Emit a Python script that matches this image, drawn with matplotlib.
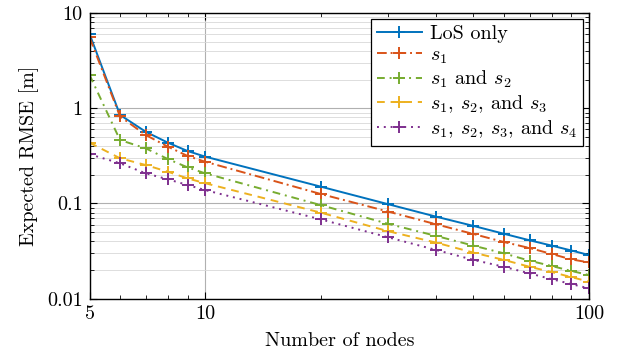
import matplotlib
matplotlib.use("Agg")
import matplotlib.pyplot as plt
from matplotlib.ticker import FixedLocator, FixedFormatter, LogLocator, NullFormatter

plt.rcParams['font.family'] = 'cmr10'
plt.rcParams['mathtext.fontset'] = 'cm'
plt.rcParams['axes.formatter.use_mathtext'] = True

nodes = [5, 6, 7, 8, 9, 10, 20, 30, 40, 50, 60, 70, 80, 90, 100]

los = [6.0, 0.85, 0.566, 0.434, 0.355, 0.31, 0.15, 0.098, 0.0725, 0.058, 0.048, 0.041, 0.036, 0.032, 0.0287]
s1 = [5.55, 0.82, 0.523, 0.394, 0.315, 0.274, 0.1256, 0.082, 0.0603, 0.0477, 0.0393, 0.034, 0.0294, 0.0258, 0.024]
s12 = [2.23, 0.463, 0.379, 0.292, 0.239, 0.207, 0.096, 0.061, 0.0455, 0.036, 0.0299, 0.025, 0.022, 0.0195, 0.0177]
s123 = [0.434, 0.298, 0.253, 0.215, 0.183, 0.163, 0.08, 0.051, 0.0387, 0.0304, 0.0255, 0.0216, 0.019, 0.0168, 0.0151]
s1234 = [0.328, 0.264, 0.207, 0.179, 0.156, 0.138, 0.068, 0.044, 0.0324, 0.0255, 0.0216, 0.0184, 0.016, 0.0142, 0.0128]

labels = ['LoS only', '$s_1$', '$s_1$ and $s_2$', '$s_1$, $s_2$, and $s_3$', '$s_1$, $s_2$, $s_3$, and $s_4$']

fig = plt.figure(figsize=(6.21, 3.56), dpi=100)
ax = fig.add_axes([0.1443, 0.1612, 0.8042, 0.8023])

mk = dict(marker='+', markersize=8, markeredgewidth=1.4, linewidth=1.4)
ax.plot(nodes, los, color='#0072BD', linestyle='-', label=labels[0], **mk)
ax.plot(nodes, s1, color='#D95319', linestyle=(0, (5, 2, 1, 2)), label=labels[1], **mk)
ax.plot(nodes, s12, color='#77AC30', linestyle=(0, (4, 2.5, 1, 2.5)), label=labels[2], **mk)
ax.plot(nodes, s123, color='#EDB120', linestyle=(0, (4, 3)), label=labels[3], **mk)
ax.plot(nodes, s1234, color='#7E2F8E', linestyle=(0, (1, 2.5)), label=labels[4], **mk)

ax.set_xscale('log')
ax.set_yscale('log')
ax.set_xlim(5, 100)
ax.set_ylim(0.01, 10)

ax.xaxis.set_major_locator(FixedLocator([5, 10, 100]))
ax.xaxis.set_major_formatter(FixedFormatter(['5', '10', '100']))
ax.xaxis.set_minor_locator(FixedLocator([6, 7, 8, 9, 20, 30, 40, 50, 60, 70, 80, 90]))
ax.xaxis.set_minor_formatter(NullFormatter())
ax.yaxis.set_major_locator(FixedLocator([0.01, 0.1, 1, 10]))
ax.yaxis.set_major_formatter(FixedFormatter(['0.01', '0.1', '1', '10']))
ax.yaxis.set_minor_locator(LogLocator(base=10, subs=range(2, 10)))
ax.yaxis.set_minor_formatter(NullFormatter())

ax.tick_params(which='both', direction='in', top=True, right=True, labelsize=14.5)
ax.tick_params(which='major', length=5, pad=5)
ax.tick_params(which='minor', length=3)

ax.grid(True, which='major', color='#b0b0b0', linewidth=0.8)
ax.grid(True, which='minor', axis='y', color='#d8d8d8', linewidth=0.6)
ax.xaxis.grid(True, which='minor', color='none')
ax.set_axisbelow(True)
for sp in ax.spines.values():
    sp.set_linewidth(1.0)

ax.set_xlabel('Number of nodes', fontsize=14.5, labelpad=6)
ax.set_ylabel('Expected RMSE [m]', fontsize=14.5, labelpad=6)

leg = ax.legend(loc='upper right', fontsize=14.5, fancybox=False, framealpha=1,
                edgecolor='black', handlelength=2.2, handletextpad=0.4,
                borderpad=0.3, labelspacing=0.15, borderaxespad=0.3)
leg.get_frame().set_linewidth(0.9)

fig.savefig('out.png', dpi=100)
